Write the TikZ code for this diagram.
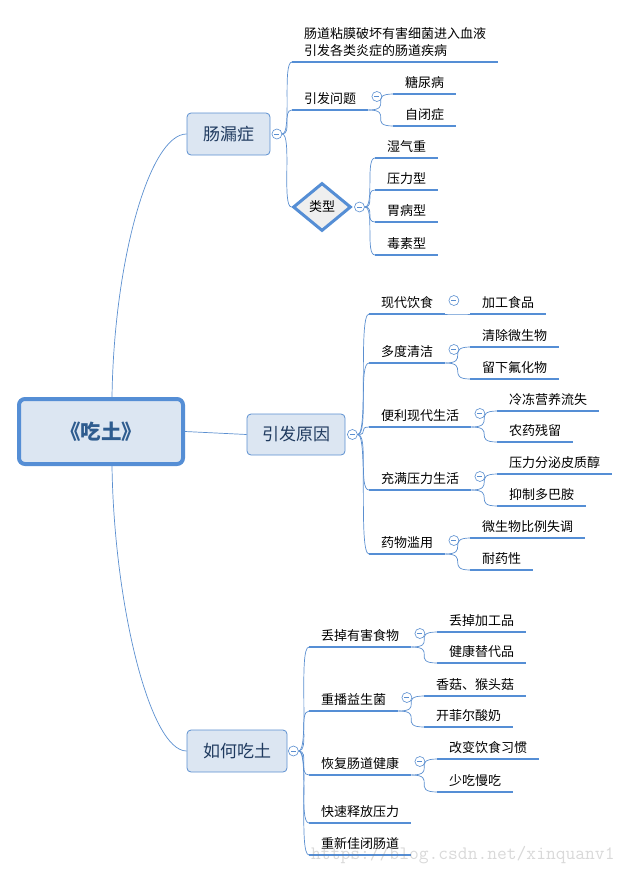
\documentclass[tikz,border=0pt]{standalone}
\usepackage{fontspec}
\setmainfont{Noto Sans CJK SC}
\usetikzlibrary{shapes.geometric}
\definecolor{linec}{HTML}{5B8FD0}
\definecolor{ulc}{HTML}{558ED5}
\definecolor{boxc}{HTML}{DCE6F2}
\definecolor{navy}{HTML}{1F3A5F}
\definecolor{rootc}{HTML}{2E5C8F}
\definecolor{kindc}{HTML}{EFEFEF}
\begin{document}
\begin{tikzpicture}[x=1pt,y=-1pt,
    root/.style={draw=ulc,line width=4pt,rounded corners=6pt,fill=boxc,
      minimum width=164pt,minimum height=65pt,text=rootc,
      font=\fontsize{20.5}{24}\selectfont\bfseries},
    topic/.style={draw=linec,line width=0.8pt,rounded corners=4pt,fill=boxc,
      inner sep=0pt,text=navy,font=\fontsize{17}{20}\selectfont},
    kind/.style={diamond,draw=ulc,line width=3pt,fill=kindc,inner sep=0pt,
      minimum width=58pt,minimum height=48pt,font=\fontsize{13}{16}\selectfont},
    leaf/.style={anchor=south west,inner xsep=12pt,inner ysep=0pt,text depth=6pt,
      font=\fontsize{13}{17}\selectfont},
    uline/.style={draw=ulc,line width=2.6pt},
    fold/.style={circle,draw=linec,line width=0.6pt,fill=white,inner sep=0pt,
      minimum size=10pt,path picture={\draw[linec,line width=0.6pt]
        ([xshift=-2.5pt]path picture bounding box.center) --
        ([xshift=2.5pt]path picture bounding box.center);}},
    br/.style={out=0,in=180,distance=#1}]
  \useasboundingbox (0,0) rectangle (633,873);

  \node[root] (root) at (101,431.5) {《吃土》};
  \node[topic,minimum width=83pt,minimum height=42pt] (A) at (228.5,134) {肠漏症};
  \node[topic,minimum width=98pt,minimum height=41pt] (B) at (296,434.5) {引发原因};
  \node[topic,minimum width=100pt,minimum height=42pt] (C) at (237,751) {如何吃土};

  \node[leaf,align=left] (A1) at (292,62) {肠道粘膜破坏有害细菌进入血液\\引发各类炎症的肠道疾病};
  \node[leaf] (A2) at (292,110) {引发问题};
  \node[kind] (A3) at (322,207) {类型};
  \node[leaf] (A21) at (393,94) {糖尿病};
  \node[leaf] (A22) at (393,126) {自闭症};
  \node[leaf] (A31) at (375,158) {湿气重};
  \node[leaf] (A32) at (375,190) {压力型};
  \node[leaf] (A33) at (375,222) {胃病型};
  \node[leaf] (A34) at (375,255) {毒素型};

  \node[leaf] (B1) at (369,314) {现代饮食};
  \node[leaf] (B2) at (369,363) {多度清洁};
  \node[leaf] (B3) at (369,427) {便利现代生活};
  \node[leaf] (B4) at (369,490) {充满压力生活};
  \node[leaf] (B5) at (369,554) {药物滥用};
  \node[leaf] (B11) at (470,314) {加工食品};
  \node[leaf] (B21) at (470,347) {清除微生物};
  \node[leaf] (B22) at (470,379) {留下氟化物};
  \node[leaf] (B31) at (497,411) {冷冻营养流失};
  \node[leaf] (B32) at (497,442) {农药残留};
  \node[leaf] (B41) at (497,474) {压力分泌皮质醇};
  \node[leaf] (B42) at (497,506) {抑制多巴胺};
  \node[leaf] (B51) at (470,538) {微生物比例失调};
  \node[leaf] (B52) at (470,570) {耐药性};

  \node[leaf] (C1) at (309,647) {丢掉有害食物};
  \node[leaf] (C2) at (309,711) {重播益生菌};
  \node[leaf] (C3) at (309,775) {恢复肠道健康};
  \node[leaf] (C4) at (309,823) {快速释放压力};
  \node[leaf] (C5) at (309,855) {重新佳闭肠道};
  \node[leaf] (C11) at (437,632) {丢掉加工品};
  \node[leaf] (C12) at (437,663) {健康替代品};
  \node[leaf] (C21) at (424,696) {香菇、猴头菇};
  \node[leaf] (C22) at (424,727) {开菲尔酸奶};
  \node[leaf] (C31) at (437,759) {改变饮食习惯};
  \node[leaf] (C32) at (437,792) {少吃慢吃};

  \foreach \n in {A1,A2,A21,A22,A31,A32,A33,A34,B1,B2,B3,B4,B5,B11,B21,B22,B31,B32,
      B41,B42,B51,B52,C1,C2,C3,C4,C5,C11,C12,C21,C22,C31,C32}
    \draw[uline] (\n.south west) -- (\n.south east);

  \node[fold] (oA) at ([xshift=6.5pt]A.east) {};
  \node[fold] (oB) at ([xshift=7pt]B.east) {};
  \node[fold] (oC) at ([xshift=6pt]C.east) {};
  \node[fold] (oA3) at ([xshift=7pt]A3.east) {};
  \foreach \n in {A2,B1,B2,B3,B4,B5,C1,C2,C3}
    \node[fold] (o\n) at ([xshift=8.5pt,yshift=13.5pt]\n.south east) {};

  \begin{scope}[linec,line width=0.7pt]
    \draw ([xshift=11pt]root.north) .. controls +(2,-137) and +(-37,0) .. (A.west);
    \draw (root.east) -- (B.west);
    \draw ([xshift=11pt]root.south) .. controls +(2,137) and +(-37,0) .. (C.west);
    \draw (oA.east) to[br=10pt] (A1.south west);
    \draw (oA.east) to[br=10pt] (A2.south west);
    \draw (oA.east) to[br=10pt] (A3.west);
    \draw (A2.south east) to[br=25pt] (A21.south west);
    \draw (A2.south east) to[br=25pt] (A22.south west);
    \draw (oA3.east) to[br=10pt] (A31.south west);
    \draw (oA3.east) to[br=10pt] (A32.south west);
    \draw (oA3.east) to[br=10pt] (A33.south west);
    \draw (oA3.east) to[br=10pt] (A34.south west);
    \draw (oB.east) to[br=11pt] (B1.south west);
    \draw (oB.east) to[br=11pt] (B2.south west);
    \draw (oB.east) to[br=11pt] (B3.south west);
    \draw (oB.east) to[br=11pt] (B4.south west);
    \draw (oB.east) to[br=11pt] (B5.south west);
    \draw (B1.south east) to[br=24pt] (B11.south west);
    \draw (B2.south east) to[br=24pt] (B21.south west);
    \draw (B2.south east) to[br=24pt] (B22.south west);
    \draw (B3.south east) to[br=25pt] (B31.south west);
    \draw (B3.south east) to[br=25pt] (B32.south west);
    \draw (B4.south east) to[br=25pt] (B41.south west);
    \draw (B4.south east) to[br=25pt] (B42.south west);
    \draw (B5.south east) to[br=24pt] (B51.south west);
    \draw (B5.south east) to[br=24pt] (B52.south west);
    \draw (oC.east) to[br=11pt] (C1.south west);
    \draw (oC.east) to[br=11pt] (C2.south west);
    \draw (oC.east) to[br=11pt] (C3.south west);
    \draw (oC.east) to[br=11pt] (C4.south west);
    \draw (oC.east) to[br=11pt] (C5.south west);
    \draw (C1.south east) to[br=26pt] (C11.south west);
    \draw (C1.south east) to[br=26pt] (C12.south west);
    \draw (C2.south east) to[br=26pt] (C21.south west);
    \draw (C2.south east) to[br=26pt] (C22.south west);
    \draw (C3.south east) to[br=26pt] (C31.south west);
    \draw (C3.south east) to[br=26pt] (C32.south west);
  \end{scope}

  \node[anchor=west,inner sep=0pt,text=gray,opacity=0.3,
    font=\ttfamily\fontsize{19}{20}\selectfont] (wm) at (311,855) {https://blog.csdn.net/xinquanv1};
\end{tikzpicture}
\end{document}
